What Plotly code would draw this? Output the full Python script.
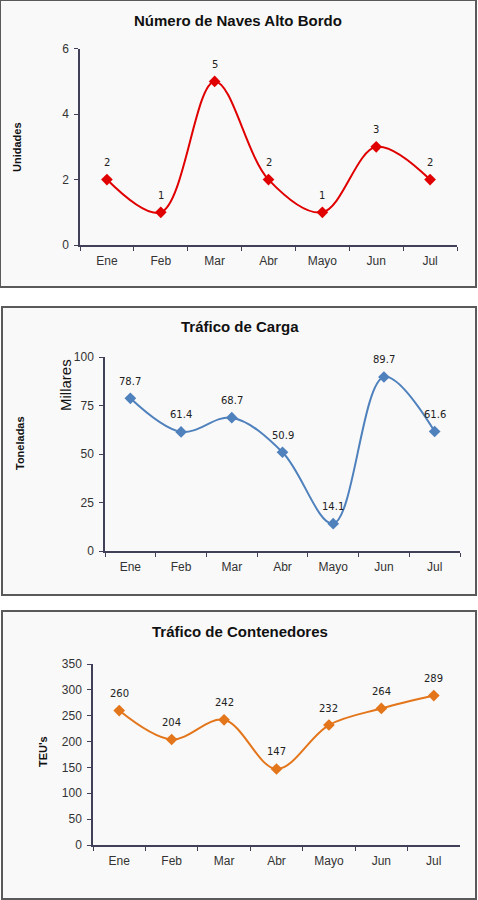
import plotly.graph_objects as go

# datos de los tres gráficos
meses = ["Ene", "Feb", "Mar", "Abr", "Mayo", "Jun", "Jul"]
naves = [2, 1, 5, 2, 1, 3, 2]
carga = [78.7, 61.4, 68.7, 50.9, 14.1, 89.7, 61.6]
contenedores = [260, 204, 242, 147, 232, 264, 289]

W, H = 478, 900


def px(x):
    return x / W


def py(y):
    return 1 - y / H


FONT = "Liberation Sans, Arial, sans-serif"
AXIS_COLOR = "#404058"

# posiciones en píxeles de cada área de trazado
paneles = [
    dict(y=naves, color="#E00000", text=[str(v) for v in naves],
         xd=(80, 457), yd=(245, 48.7), rng=[0, 6], dtick=2),
    dict(y=carga, color="#4F81BD", text=[f"{v:.1f}" for v in carga],
         xd=(105, 460), yd=(551, 357), rng=[0, 100], dtick=25),
    dict(y=contenedores, color="#E3751A", text=[str(v) for v in contenedores],
         xd=(93, 460), yd=(845, 664), rng=[0, 350], dtick=50),
]

fig = go.Figure()
annotations = []

for i, p in enumerate(paneles, start=1):
    sfx = "" if i == 1 else str(i)
    fig.add_trace(go.Scatter(
        x=meses,
        y=p["y"],
        mode="lines+markers",
        line=dict(color=p["color"], width=2, shape="spline", smoothing=1),
        marker=dict(symbol="diamond", size=9, color=p["color"]),
        xaxis="x" + sfx,
        yaxis="y" + sfx,
        showlegend=False,
        cliponaxis=False,
    ))
    # etiquetas de datos encima de cada punto
    for m, v, t in zip(meses, p["y"], p["text"]):
        annotations.append(dict(
            x=m, y=v, xref="x" + sfx, yref="y" + sfx, text=t,
            showarrow=False, yshift=17, yanchor="middle",
            font=dict(family="DejaVu Sans, sans-serif", size=10, color="#222"),
        ))
    fig.update_layout(**{
        "xaxis" + sfx: dict(
            domain=[px(p["xd"][0]), px(p["xd"][1])],
            anchor="y" + sfx,
            type="category",
            range=[-0.5, 6.5],
            automargin=False,
            tickson="boundaries",
            ticks="outside",
            ticklen=4,
            tickcolor=AXIS_COLOR,
            ticklabelstandoff=4,
            showline=True,
            linecolor=AXIS_COLOR,
            linewidth=1.5,
            showgrid=False,
            tickfont=dict(family=FONT, size=12, color="#333"),
        ),
        "yaxis" + sfx: dict(
            domain=[py(p["yd"][0]), py(p["yd"][1])],
            anchor="x" + sfx,
            range=p["rng"],
            dtick=p["dtick"],
            automargin=False,
            ticks="outside",
            ticklen=4,
            tickcolor=AXIS_COLOR,
            ticklabelstandoff=3,
            showline=True,
            linecolor=AXIS_COLOR,
            linewidth=1.5,
            showgrid=False,
            zeroline=False,
            tickfont=dict(family=FONT, size=12, color="#333"),
        ),
    })

# marcos de los paneles
marcos = [(0, 0, 476, 287), (2, 307, 476, 595), (2, 611, 476, 899)]
shapes = []
for x0, y0, x1, y1 in marcos:
    shapes.append(dict(
        type="rect", xref="paper", yref="paper", layer="below",
        x0=px(x0), x1=px(x1), y0=py(y1), y1=py(y0),
        line=dict(color="#5a5a5a", width=2), fillcolor="#F9F9F9",
    ))

# títulos y rótulos de ejes
textos = [
    ("<b>Número de Naves Alto Bordo</b>", 238, 20, 15, 0),
    ("<b>Tráfico de Carga</b>", 240, 326, 15, 0),
    ("<b>Tráfico de Contenedores</b>", 240, 631, 15, 0),
    ("<b>Unidades</b>", 17, 147, 11, -90),
    ("<b>Toneladas</b>", 20, 443, 11, -90),
    ("Millares", 65, 385, 15, -90),
    ("<b>TEU's</b>", 43, 752, 11, -90),
]
for t, x, y, size, ang in textos:
    annotations.append(dict(
        text=t, xref="paper", yref="paper", x=px(x), y=py(y),
        xanchor="center", yanchor="middle", showarrow=False,
        textangle=ang, font=dict(family=FONT, size=size, color="#111"),
    ))

fig.update_layout(
    width=W,
    height=H,
    margin=dict(l=0, r=0, t=0, b=0, autoexpand=False),
    paper_bgcolor="white",
    plot_bgcolor="rgba(0,0,0,0)",
    shapes=shapes,
    annotations=annotations,
)

# quitar el margen del body para que la figura ocupe la ventana exacta
fig.write_html(
    "out.html",
    config={"displayModeBar": False},
    post_script="document.body.style.margin='0';document.body.style.overflow='hidden';",
)
